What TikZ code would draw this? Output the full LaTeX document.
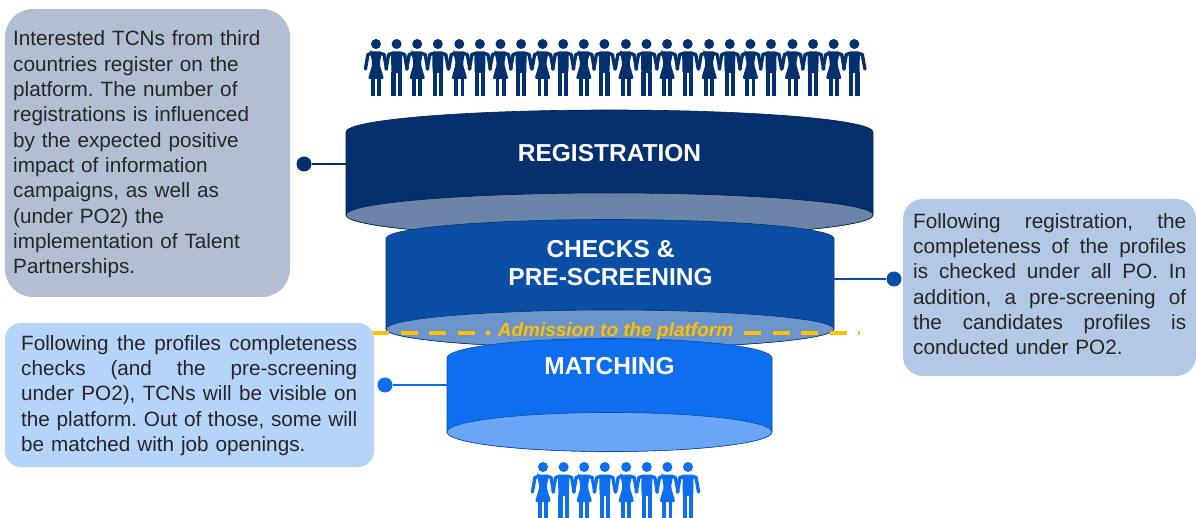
\documentclass[tikz,border=0pt]{standalone}
\usepackage{fontspec}
\setmainfont{Liberation Sans}
\usetikzlibrary{positioning}

\definecolor{navy}{HTML}{04306E}
\definecolor{midblue}{HTML}{0A4EA5}
\definecolor{brightblue}{HTML}{0D6EF0}
\definecolor{navylight}{HTML}{6C84A8}
\definecolor{midlight}{HTML}{6C95CB}
\definecolor{brightlight}{HTML}{6BA6F6}
\definecolor{gold}{HTML}{FFC000}

\tikzset{
  infobox/.style={inner sep=0pt, text=black!85, font=\fontsize{20.7}{25.35}\selectfont\frenchspacing},
  stagetitle/.style={text=white, align=center, font=\fontsize{24.5}{28.5}\selectfont\bfseries},
  dot/.style={circle, fill, inner sep=0pt, minimum size=15pt},
  link/.style={line width=1.5pt},
  admission/.style={line width=3.5pt, gold, dash pattern=on 17pt off 11.5pt},
  limb/.style={line width=3.4pt, line cap=round, line join=round},
  woman/.pic={
    \fill (0,0) circle (5pt);
    \fill[rounded corners=2pt] (-6,7.5) -- (6,7.5) -- (3.6,20) -- (8,35) -- (-8,35) -- (-3.6,20) -- (-6,7.5) -- cycle;
    \fill (-5,34) rectangle (-1.2,52.5);
    \fill (1.2,34) rectangle (5,52.5);
    \draw[limb] (-4,9.3) -- (-8,10.5) -- (-10.6,25);
    \draw[limb] (4,9.3) -- (8,10.5) -- (10.6,25);
  },
  man/.pic={
    \fill (0,0) circle (5pt);
    \fill[rounded corners=1.5pt] (-5.6,7.5) -- (5.6,7.5) -- (5.2,29) -- (-5.2,29) -- cycle;
    \fill (-5.2,28) rectangle (-1,52.5);
    \fill (1,28) rectangle (5.2,52.5);
    \draw[limb] (-4,9.3) -- (-8,10.5) -- (-10.6,25);
    \draw[limb] (4,9.3) -- (8,10.5) -- (10.6,25);
  },
}

% centre x, half width, top y, bottom y, half height, wall colour, face colour
\newcommand{\drum}[7]{
  \path[fill=#6, draw=#6!70!black, line width=.6pt] (#1-#2,#3) arc[start angle=180, end angle=0, x radius=#2pt, y radius=#5pt]
    -- (#1+#2,#4) arc[start angle=0, end angle=-180, x radius=#2pt, y radius=#5pt] -- cycle;
  \path[fill=#7, draw=#6!70!black, line width=.6pt] (#1,#4) ellipse[x radius=#2pt, y radius=#5pt];
}
% one line stretched to a given width
\newcommand{\stretchline}[2]{\makebox[#1][s]{\spaceskip=.278em plus 1em minus .1em #2}}

\begin{document}
\begin{tikzpicture}[x=1pt, y=-1pt]
  \useasboundingbox (0,0) rectangle (1196,518);

  % people above
  \foreach \g in {0,...,5} {
    \foreach \k in {0,2} {
      \pic[color=navy] at ({376+83.3*\g+20.6*\k},44) {woman};
      \pic[color=navy] at ({376+83.3*\g+20.6*(\k+1)},44) {man};
    }
  }

  % funnel
  \drum{609.5}{263.5}{132}{215}{22}{navy}{navylight}
  \drum{610}{224}{238.5}{329}{19}{midblue}{midlight}
  \drum{609.5}{162.5}{358}{432}{19.5}{brightblue}{brightlight}

  \node[stagetitle] (registration) at (609.5,153) {REGISTRATION};
  \node[stagetitle] (checks) at (610.5,263) {CHECKS \&\\PRE-SCREENING};
  \node[stagetitle] (matching) at (609.5,366) {MATCHING};

  % admission line
  \node[text=gold, font=\fontsize{19}{22}\selectfont\bfseries\itshape, inner sep=0pt] (admission) at (615.5,331.5) {Admission to the platform};
  \coordinate (admleft) at (372,333);
  \coordinate (admright) at (860,333);
  \coordinate (admgapl) at (490,333);
  \coordinate (admgapr) at (744,333);
  \draw[admission] (admleft) -- (admgapl);
  \draw[admission] (admgapr) -- (admright);

  % people below
  \foreach \g in {0,1} {
    \foreach \k in {0,2} {
      \pic[color=brightblue] at ({543+83.2*\g+20.6*\k},467) {woman};
      \pic[color=brightblue] at ({543+83.2*\g+20.6*(\k+1)},467) {man};
    }
  }

  % boxes
  \fill[navylight!52, rounded corners=28pt] (5,9) rectangle (290,297);
  \fill[midlight!52, rounded corners=20pt] (903,199) rectangle (1196,376);
  \fill[brightblue!30, rounded corners=16pt] (5,323) rectangle (374,467);

  \node[infobox, anchor=north west, text width=270pt, align=left] (regtext) at (13,30.5) {Interested TCNs from third\\countries register on the\\platform. The number of\\registrations is influenced\\by the expected positive\\impact of information\\campaigns, as well as\\(under PO2) the\\implementation of Talent\\Partnerships.};
  \node[infobox, anchor=north west, text width=273pt, align=left] (checktext) at (913,213) {\stretchline{273pt}{Following registration, the}\\\stretchline{273pt}{completeness of the profiles}\\\stretchline{273pt}{is checked under all PO. In}\\\stretchline{273pt}{addition, a pre-screening of}\\\stretchline{273pt}{the candidates profiles is}\\conducted under PO2.};
  \node[infobox, anchor=north west, text width=336pt, align=left] (matchtext) at (21,335) {\stretchline{336pt}{Following the profiles completeness}\\\stretchline{336pt}{checks (and the pre-screening}\\\stretchline{336pt}{under PO2), TCNs will be visible on}\\\stretchline{336pt}{the platform. Out of those, some will}\\be matched with job openings.};

  % links
  \node[dot, navy] (regdot) at (304,164) {};
  \node[dot, midblue] (checkdot) at (894,279) {};
  \node[dot, brightblue] (matchdot) at (385,385) {};
  \coordinate (regedge) at (346,164);
  \coordinate (checkedge) at (834,279);
  \coordinate (matchedge) at (447,385);
  \draw[link, navy] (regdot) -- (regedge);
  \draw[link, midblue] (checkdot) -- (checkedge);
  \draw[link, brightblue] (matchdot) -- (matchedge);
\end{tikzpicture}
\end{document}
